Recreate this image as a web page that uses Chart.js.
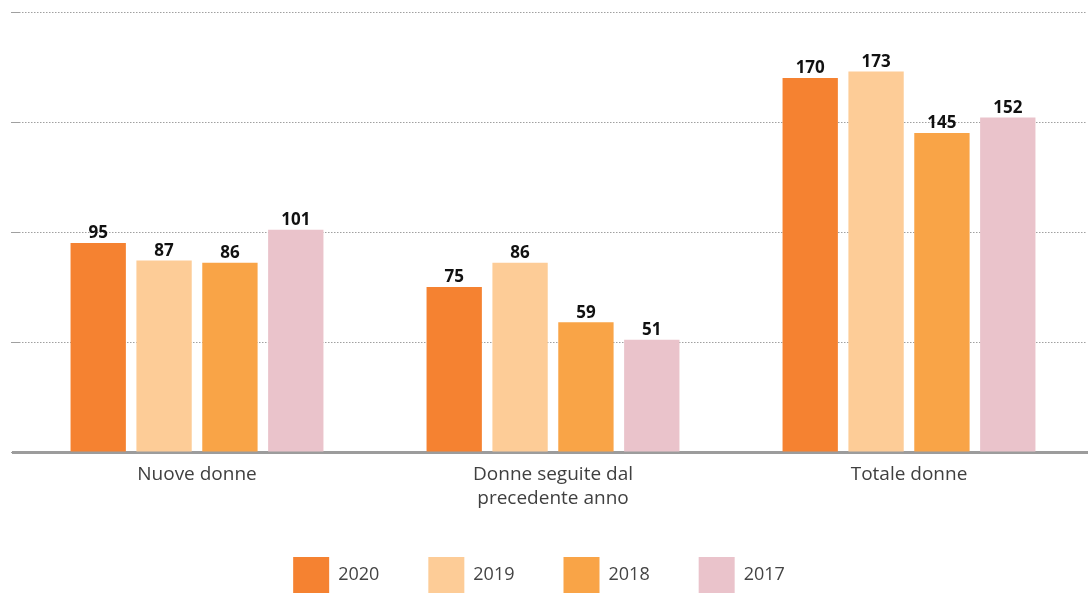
<!DOCTYPE html>
<html>
<head>
<meta charset="utf-8">
<script src="https://cdn.jsdelivr.net/npm/chart.js@4.4.1/dist/chart.umd.min.js"></script>
<style>
  html, body { margin: 0; padding: 0; background: #fff; overflow: hidden; }
  #wrap { position: relative; width: 1088px; height: 603px; }
</style>
</head>
<body>
<div id="wrap"><canvas id="c"></canvas></div>
<script>
const categories = ["Nuove donne", ["Donne seguite dal", "precedente anno"], "Totale donne"];
const seriesNames = ["2020", "2019", "2018", "2017"];
const values2020 = [95, 75, 170];
const values2019 = [87, 86, 173];
const values2018 = [86, 59, 145];
const values2017 = [101, 51, 152];
const seriesColors = ["#F58231", "#FDCC97", "#F9A447", "#EAC3CB"];
const yTicks = { min: 0, max: 200, step: 50 };

const FONT = '"Open Sans", "DejaVu Sans", sans-serif';

const valueLabels = {
  id: 'valueLabels',
  afterLayout(chart) {
    // nudge the centred legend slightly left, as in the reference
    const lg = chart.legend;
    if (lg) { lg.left -= 10; lg.right -= 10; }
  },
  beforeDatasetsDraw(chart) {
    const ctx = chart.ctx;
    const y0 = chart.scales.y.getPixelForValue(0);
    ctx.save();
    ctx.strokeStyle = '#9C9C9C';
    ctx.lineWidth = 3;
    ctx.beginPath();
    ctx.moveTo(chart.scales.y.left + 1, y0 + 0.5);
    ctx.lineTo(chart.width, y0 + 0.5);
    ctx.stroke();
    ctx.restore();
  },
  afterDatasetsDraw(chart) {
    const ctx = chart.ctx;
    ctx.save();
    ctx.font = 'bold 17px ' + FONT;
    ctx.fillStyle = '#111111';
    ctx.textAlign = 'center';
    ctx.textBaseline = 'bottom';
    chart.data.datasets.forEach((ds, i) => {
      const meta = chart.getDatasetMeta(i);
      meta.data.forEach((bar, j) => {
        ctx.fillText(String(ds.data[j]), bar.x, bar.y - 1);
      });
    });
    ctx.restore();
  }
};

const allValues = [values2020, values2019, values2018, values2017];

new Chart(document.getElementById('c'), {
  type: 'bar',
  data: {
    labels: categories,
    datasets: seriesNames.map((name, i) => ({
      label: name,
      data: allValues[i],
      backgroundColor: seriesColors[i],
      borderWidth: 0,
      categoryPercentage: 0.74,
      barPercentage: 0.84
    }))
  },
  options: {
    responsive: true,
    maintainAspectRatio: false,
    animation: false,
    layout: { padding: { top: 12, left: 11, right: 1, bottom: 0 } },
    plugins: {
      tooltip: { enabled: false },
      legend: {
        position: 'bottom',
        labels: {
          boxWidth: 36,
          boxHeight: 36,
          padding: 49,
          color: '#444444',
          font: { family: FONT, size: 18 }
        }
      }
    },
    scales: {
      x: {
        grid: { display: false, drawTicks: false },
        border: { display: false },
        ticks: {
          color: '#404040',
          padding: 11,
          font: { family: FONT, size: 19, lineHeight: 1.26 },
          maxRotation: 0,
          autoSkip: false
        },
        afterFit: (s) => { s.height = 56; }
      },
      y: {
        min: yTicks.min,
        max: yTicks.max,
        ticks: { display: false, stepSize: yTicks.step },
        grid: { color: '#A0A0A0', lineWidth: 1, drawTicks: true, tickLength: 8 },
        border: { display: false, dash: [1.5, 1.5] }
      }
    }
  },
  plugins: [valueLabels]
});
</script>
</body>
</html>
